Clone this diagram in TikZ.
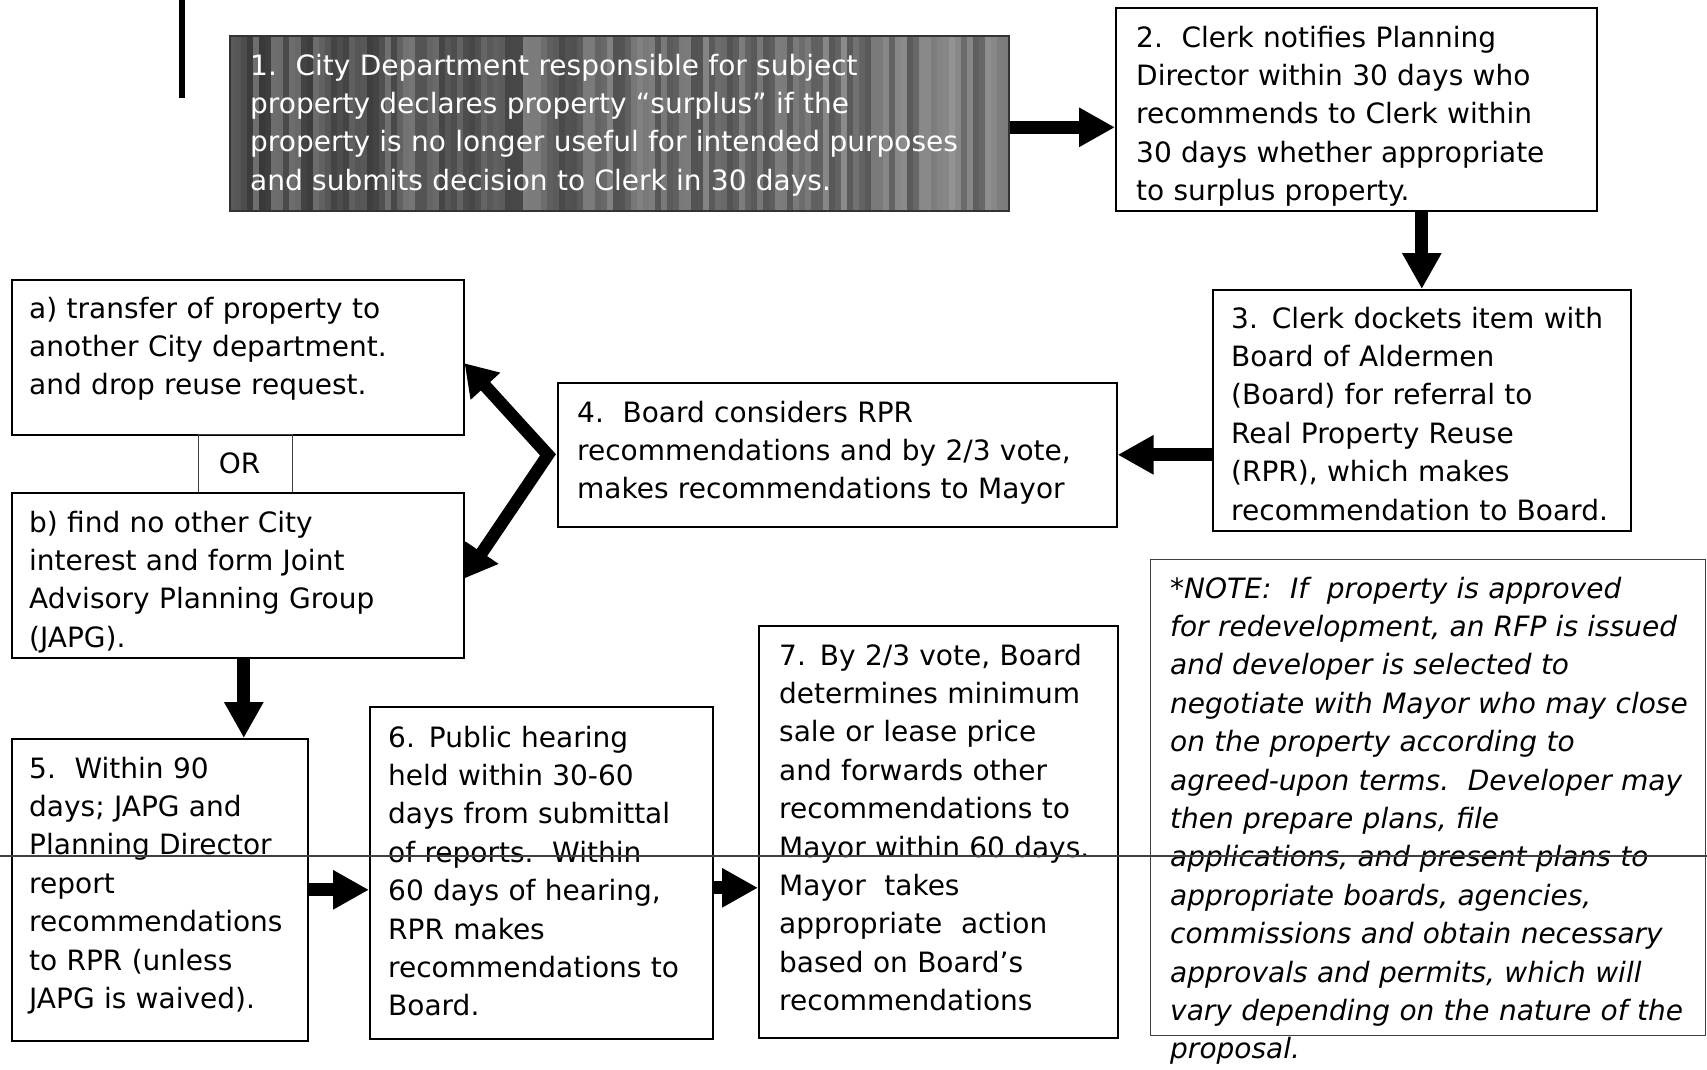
\documentclass[tikz,border=0pt]{standalone}
\usepackage{fontspec}
\setmainfont{DejaVu Sans}
\usetikzlibrary{arrows.meta}
\tikzset{
  pbox/.style={draw=black, line width=1.6pt, inner sep=0pt, anchor=north west},
  thinbox/.style={draw=black!75, line width=1.1pt, inner sep=0pt, anchor=north west},
  txt/.style={anchor=north west, inner sep=0pt, align=left, text width=900pt,
    font=\fontsize{28}{38.4}\selectfont, execute at begin node=\strut},
  bigarrow/.style={line width=13pt, -{Triangle[length=36pt,width=37pt]}},
  twoarrow/.style={line width=12.5pt, line join=miter,
    {Triangle[length=31pt,width=38pt]}-{Triangle[length=31pt,width=38pt]}},
}
\begin{document}
\begin{tikzpicture}[x=1pt,y=-1pt]
\useasboundingbox (0,0) rectangle (1707,1069);
\fill[white] (0,0) rectangle (1707,1069);

% left bar
\coordinate (bartop) at (182,0);
\coordinate (barbot) at (182,98);
\draw[line width=6pt] (bartop) -- (barbot);

% box 1 texture
\pgfmathsetseed{12}
\foreach \i in {0,...,129}{
  \pgfmathsetmacro\g{68 - 16*\i/129 + 22*(rnd-0.5)}
  \fill[black!\g] ({229+\i*6},35) rectangle ({235+\i*6},210);
}
\node[pbox, draw=black!80, minimum width=779pt, minimum height=175pt] (b1) at (229,35) {};
\node[txt, text=white] (b1t) at ([xshift=21pt,yshift=-13pt]b1.north west)
 {1.\ \ City Department responsible for subject\\
  property declares property “surplus” if the\\
  property is no longer useful for intended purposes\\
  and submits decision to Clerk in 30 days.};

% box 2
\node[pbox, minimum width=481pt, minimum height=203pt] (b2) at (1115,7) {};
\node[txt] (b2t) at ([xshift=21pt,yshift=-13pt]b2.north west)
 {2.\ \ Clerk notifies Planning\\
  Director within 30 days who\\
  recommends to Clerk within\\
  30 days whether appropriate\\
  to surplus property.};

% box 3
\node[pbox, minimum width=418pt, minimum height=241pt] (b3) at (1212,289) {};
\node[txt] (b3t) at ([xshift=19pt,yshift=-12pt]b3.north west)
 {3. Clerk dockets item with\\
  Board of Aldermen\\
  (Board) for referral to\\
  Real Property Reuse\\
  (RPR), which makes\\
  recommendation to Board.};

% box 4
\node[pbox, minimum width=559pt, minimum height=144pt] (b4) at (557,382) {};
\node[txt] (b4t) at ([xshift=20pt,yshift=-13pt]b4.north west)
 {4.\ \ Board considers RPR\\
  recommendations and by 2/3 vote,\\
  makes recommendations to Mayor};

% box a
\node[pbox, minimum width=452pt, minimum height=155pt] (ba) at (11,279) {};
\node[txt] (bat) at ([xshift=18pt,yshift=-12pt]ba.north west)
 {a) transfer of property to\\
  another City department.\\
  and drop reuse request.};

% OR box
\node[thinbox, minimum width=94pt, minimum height=58pt] (orb) at (198,434) {};
\node[font=\fontsize{28}{38.4}\selectfont, inner sep=0pt] (ort) at ([xshift=-6pt]orb.center) {OR};

% box b
\node[pbox, minimum width=452pt, minimum height=165pt] (bb) at (11,492) {};
\node[txt] (bbt) at ([xshift=18pt,yshift=-13pt]bb.north west)
 {b) find no other City\\
  interest and form Joint\\
  Advisory Planning Group\\
  (JAPG).};

% box 5
\node[pbox, minimum width=296pt, minimum height=302pt] (b5) at (11,738) {};
\node[txt] (b5t) at ([xshift=18pt,yshift=-13pt]b5.north west)
 {5.\ \ Within 90\\
  days; JAPG and\\
  Planning Director\\
  report\\
  recommendations\\
  to RPR (unless\\
  JAPG is waived).};

% box 6
\node[pbox, minimum width=343pt, minimum height=332pt] (b6) at (369,706) {};
\node[txt] (b6t) at ([xshift=19pt,yshift=-14pt]b6.north west)
 {6. Public hearing\\
  held within 30-60\\
  days from submittal\\
  of reports.\ \ Within\\
  60 days of hearing,\\
  RPR makes\\
  recommendations to\\
  Board.};

% box 7
\node[pbox, minimum width=359pt, minimum height=412pt] (b7) at (758,625) {};
\node[txt] (b7t) at ([xshift=21pt,yshift=-13pt]b7.north west)
 {7. By 2/3 vote, Board\\
  determines minimum\\
  sale or lease price\\
  and forwards other\\
  recommendations to\\
  Mayor within 60 days.\\
  Mayor\ \ takes\\
  appropriate\ \ action\\
  based on Board’s\\
  recommendations};

% note
\node[thinbox, minimum width=555pt, minimum height=476pt] (nb) at (1150,559) {};
\node[txt, font=\fontsize{28}{38.4}\selectfont\itshape] (nbt) at ([xshift=20pt,yshift=-12pt]nb.north west)
 {*NOTE:\ \ If\ \ property is approved\\
  for redevelopment, an RFP is issued\\
  and developer is selected to\\
  negotiate with Mayor who may close\\
  on the property according to\\
  agreed-upon terms.\ \ Developer may\\
  then prepare plans, file\\
  applications, and present plans to\\
  appropriate boards, agencies,\\
  commissions and obtain necessary\\
  approvals and permits, which will\\
  vary depending on the nature of the\\
  proposal.};

% connectors
\draw[bigarrow] ([yshift=-4pt]b1.east) -- ([yshift=-4pt]b1.east -| b2.west);
\draw[bigarrow] (b2.south -| b3.north) -- (b3.north);
\draw[bigarrow] (b4.east -| b3.west) -- (b4.east);
\draw[twoarrow] ([yshift=-6pt]ba.east) -- ([xshift=-9pt]b4.west) -- ([yshift=-3pt]bb.east);
\draw[bigarrow] ([xshift=6pt]bb.south) -- ([xshift=6pt]bb.south |- b5.north);
\draw[bigarrow] (b5.east) -- (b5.east -| b6.west);
\draw[bigarrow] ([yshift=-15pt]b6.east) -- ([yshift=-15pt]b6.east -| b7.west);

% scan line
\coordinate (scanl) at (0,856);
\coordinate (scanr) at (1707,856);
\draw[line width=1.2pt, black!75] (scanl) -- (scanr);
\end{tikzpicture}
\end{document}
